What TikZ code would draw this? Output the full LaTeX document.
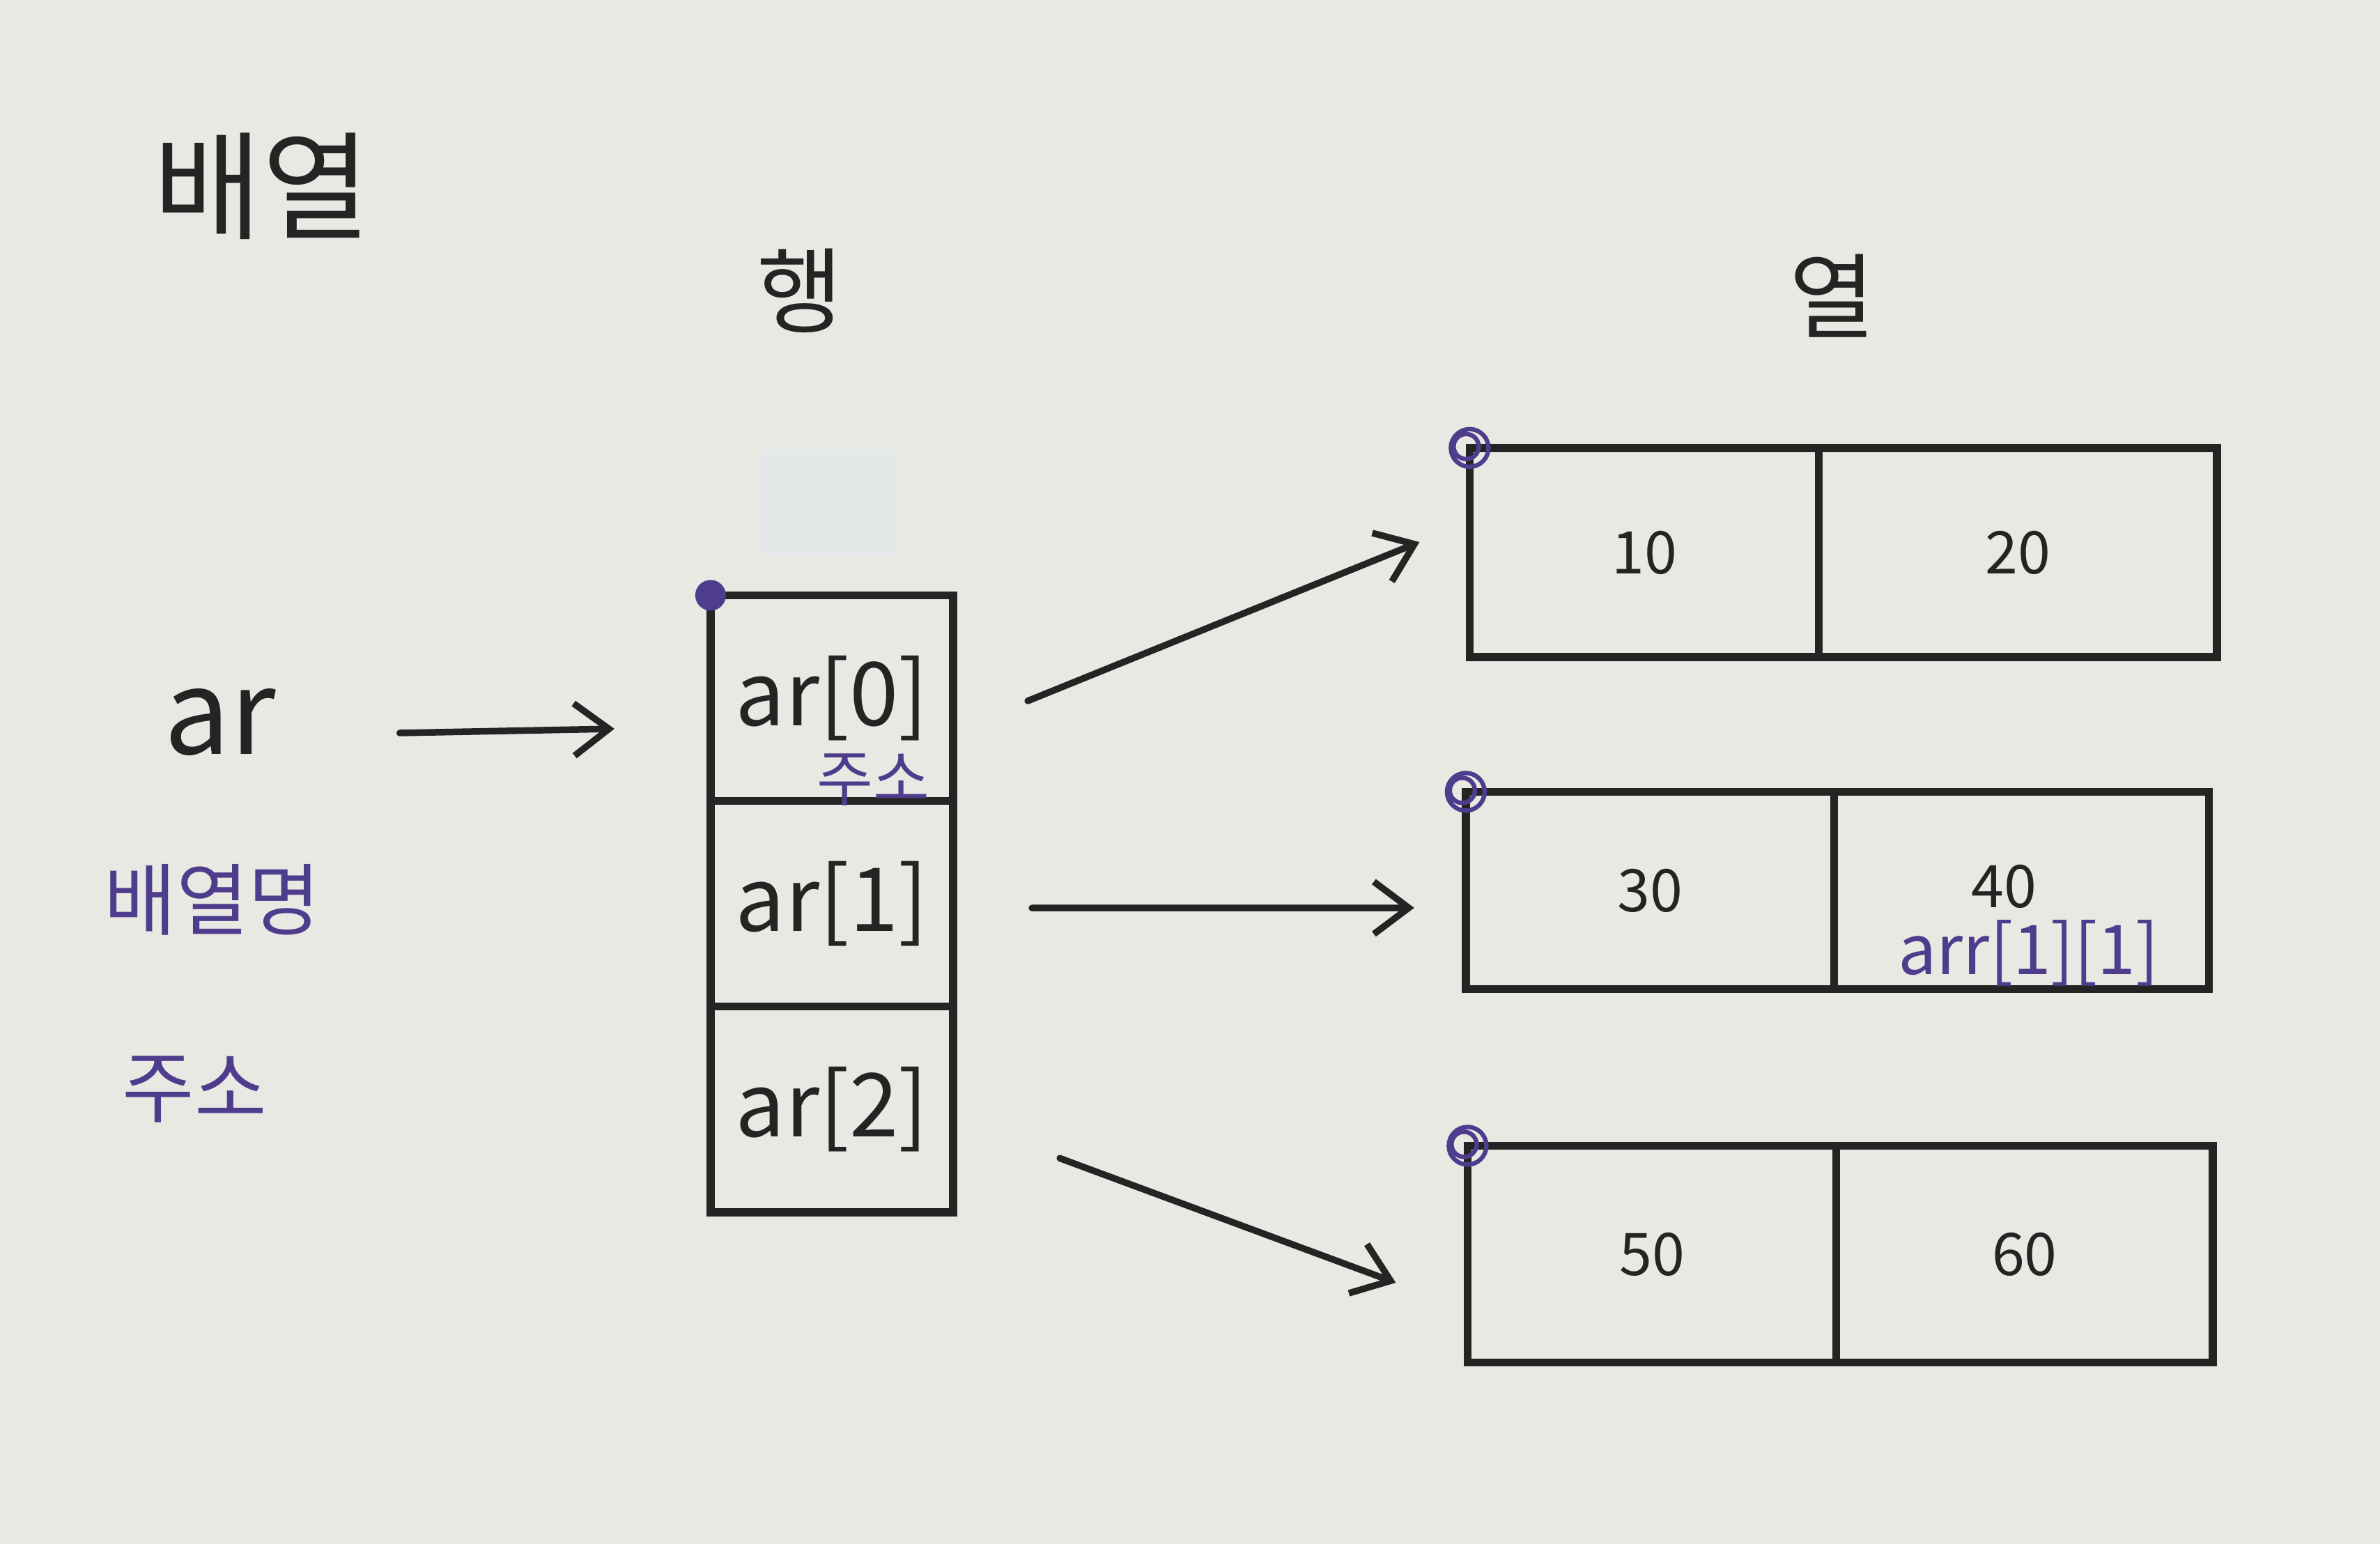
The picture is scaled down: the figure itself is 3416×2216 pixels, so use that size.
\documentclass[tikz,border=0pt]{standalone}
\usepackage{fontspec}
\setmainfont{Noto Sans CJK KR}
\usetikzlibrary{arrows.meta, positioning, calc}
\definecolor{paper}{RGB}{233, 233, 228}
\definecolor{ink}{RGB}{36, 36, 36}
\definecolor{penpurple}{RGB}{78, 60, 140}
\definecolor{tape}{RGB}{229, 232, 233}
\tikzset{
    cell/.style={rectangle, draw=ink, line width=3.2pt, outer sep=0pt, inner sep=0pt, minimum width=3.48cm, minimum height=2.95cm, text=ink, font=\fontsize{36}{40}\selectfont},
    valcell/.style={rectangle, draw=ink, line width=3.2pt, outer sep=0pt, inner sep=0pt, text=ink, font=\fontsize{24}{28}\selectfont},
    ptr/.style={draw=ink, line width=2.7pt, line cap=round, -{Straight Barb[length=5mm, width=7.5mm]}},
    note/.style={text=penpurple, font=\fontsize{32}{36}\selectfont},
    headtext/.style={text=ink, font=\fontsize{38}{42}\selectfont},
    startmark/.style={draw=penpurple, line width=1.8pt}
}
\begin{document}
\begin{tikzpicture}[x=0.01cm, y=-0.01cm]
        % Paper sheet
        \fill[paper] (0,0) rectangle (3416,2216);
        \useasboundingbox (0,0) rectangle (3416,2216);
        \fill[tape] (1090,645) rectangle (1290,800);

        % Titles
        \node[headtext, font=\fontsize{48}{52}\selectfont] (title) at (376,267) {배열};
        \node[headtext] (rowtitle) at (1148,417) {행};
        \node[headtext] (coltitle) at (2630,425) {열};

        % Array name on the left
        \node[text=ink, font=\fontsize{48}{52}\selectfont] (ar) at (316,1037) {ar};
        \node[note] (arname) at (305,1291) {배열명};
        \node[note] (araddr) at (279,1563) {주소};

        % Row column
        \node[cell] (r0) at (1194,1002) {ar[0]};
        \node[cell, below=0pt of r0] (r1) {ar[1]};
        \node[cell, below=0pt of r1] (r2) {ar[2]};
        \node[note, font=\fontsize{25}{28}\selectfont] (r0addr) at ($(r0.south)+(59,-31)$) {주소};
        \fill[penpurple] (r0.north west) circle (0.22cm);

        % Value rows
        \node[valcell, minimum width=5.01cm, minimum height=3.0cm] (c00) at (2360,793) {10};
        \node[valcell, minimum width=5.71cm, minimum height=3.0cm, right=0pt of c00] (c01) {20};
        \node[valcell, minimum width=5.28cm, minimum height=2.83cm] (c10) at (2368,1278) {30};
        \node[valcell, minimum width=5.38cm, minimum height=2.83cm, right=0pt of c10] (c11) {};
        \node[text=ink, font=\fontsize{24}{28}\selectfont] (v11) at ($(c11.center)+(-25,-6)$) {40};
        \node[valcell, minimum width=5.29cm, minimum height=3.11cm] (c20) at (2371,1800) {50};
        \node[valcell, minimum width=5.40cm, minimum height=3.11cm, right=0pt of c20] (c21) {60};
        \node[note, font=\fontsize{28}{32}\selectfont] (c11addr) at ($(c11.south)+(10,-52)$) {arr[1][1]};

        % Start marks
        \draw[startmark] (c00.north west) circle (0.27cm) ($(c00.north west)+(-5,-2)$) circle (0.18cm);
        \draw[startmark] (c10.north west) circle (0.27cm) ($(c10.north west)+(-5,-2)$) circle (0.18cm);
        \draw[startmark] (c20.north west) circle (0.27cm) ($(c20.north west)+(-5,-2)$) circle (0.18cm);

        % Pointers
        \draw[ptr] ($(ar.east)+(165,15)$) -- ($(r0.west)+(-138,44)$);
        \draw[ptr] ($(r0.east)+(107,4)$) -- ($(c00.west)+(-72,-15)$);
        \draw[ptr] ($(r1.east)+(113,6)$) -- ($(c10.west)+(-74,25)$);
        \draw[ptr] ($(r2.east)+(153,70)$) -- ($(c20.west)+(-103,41)$);
    \end{tikzpicture}
\end{document}
